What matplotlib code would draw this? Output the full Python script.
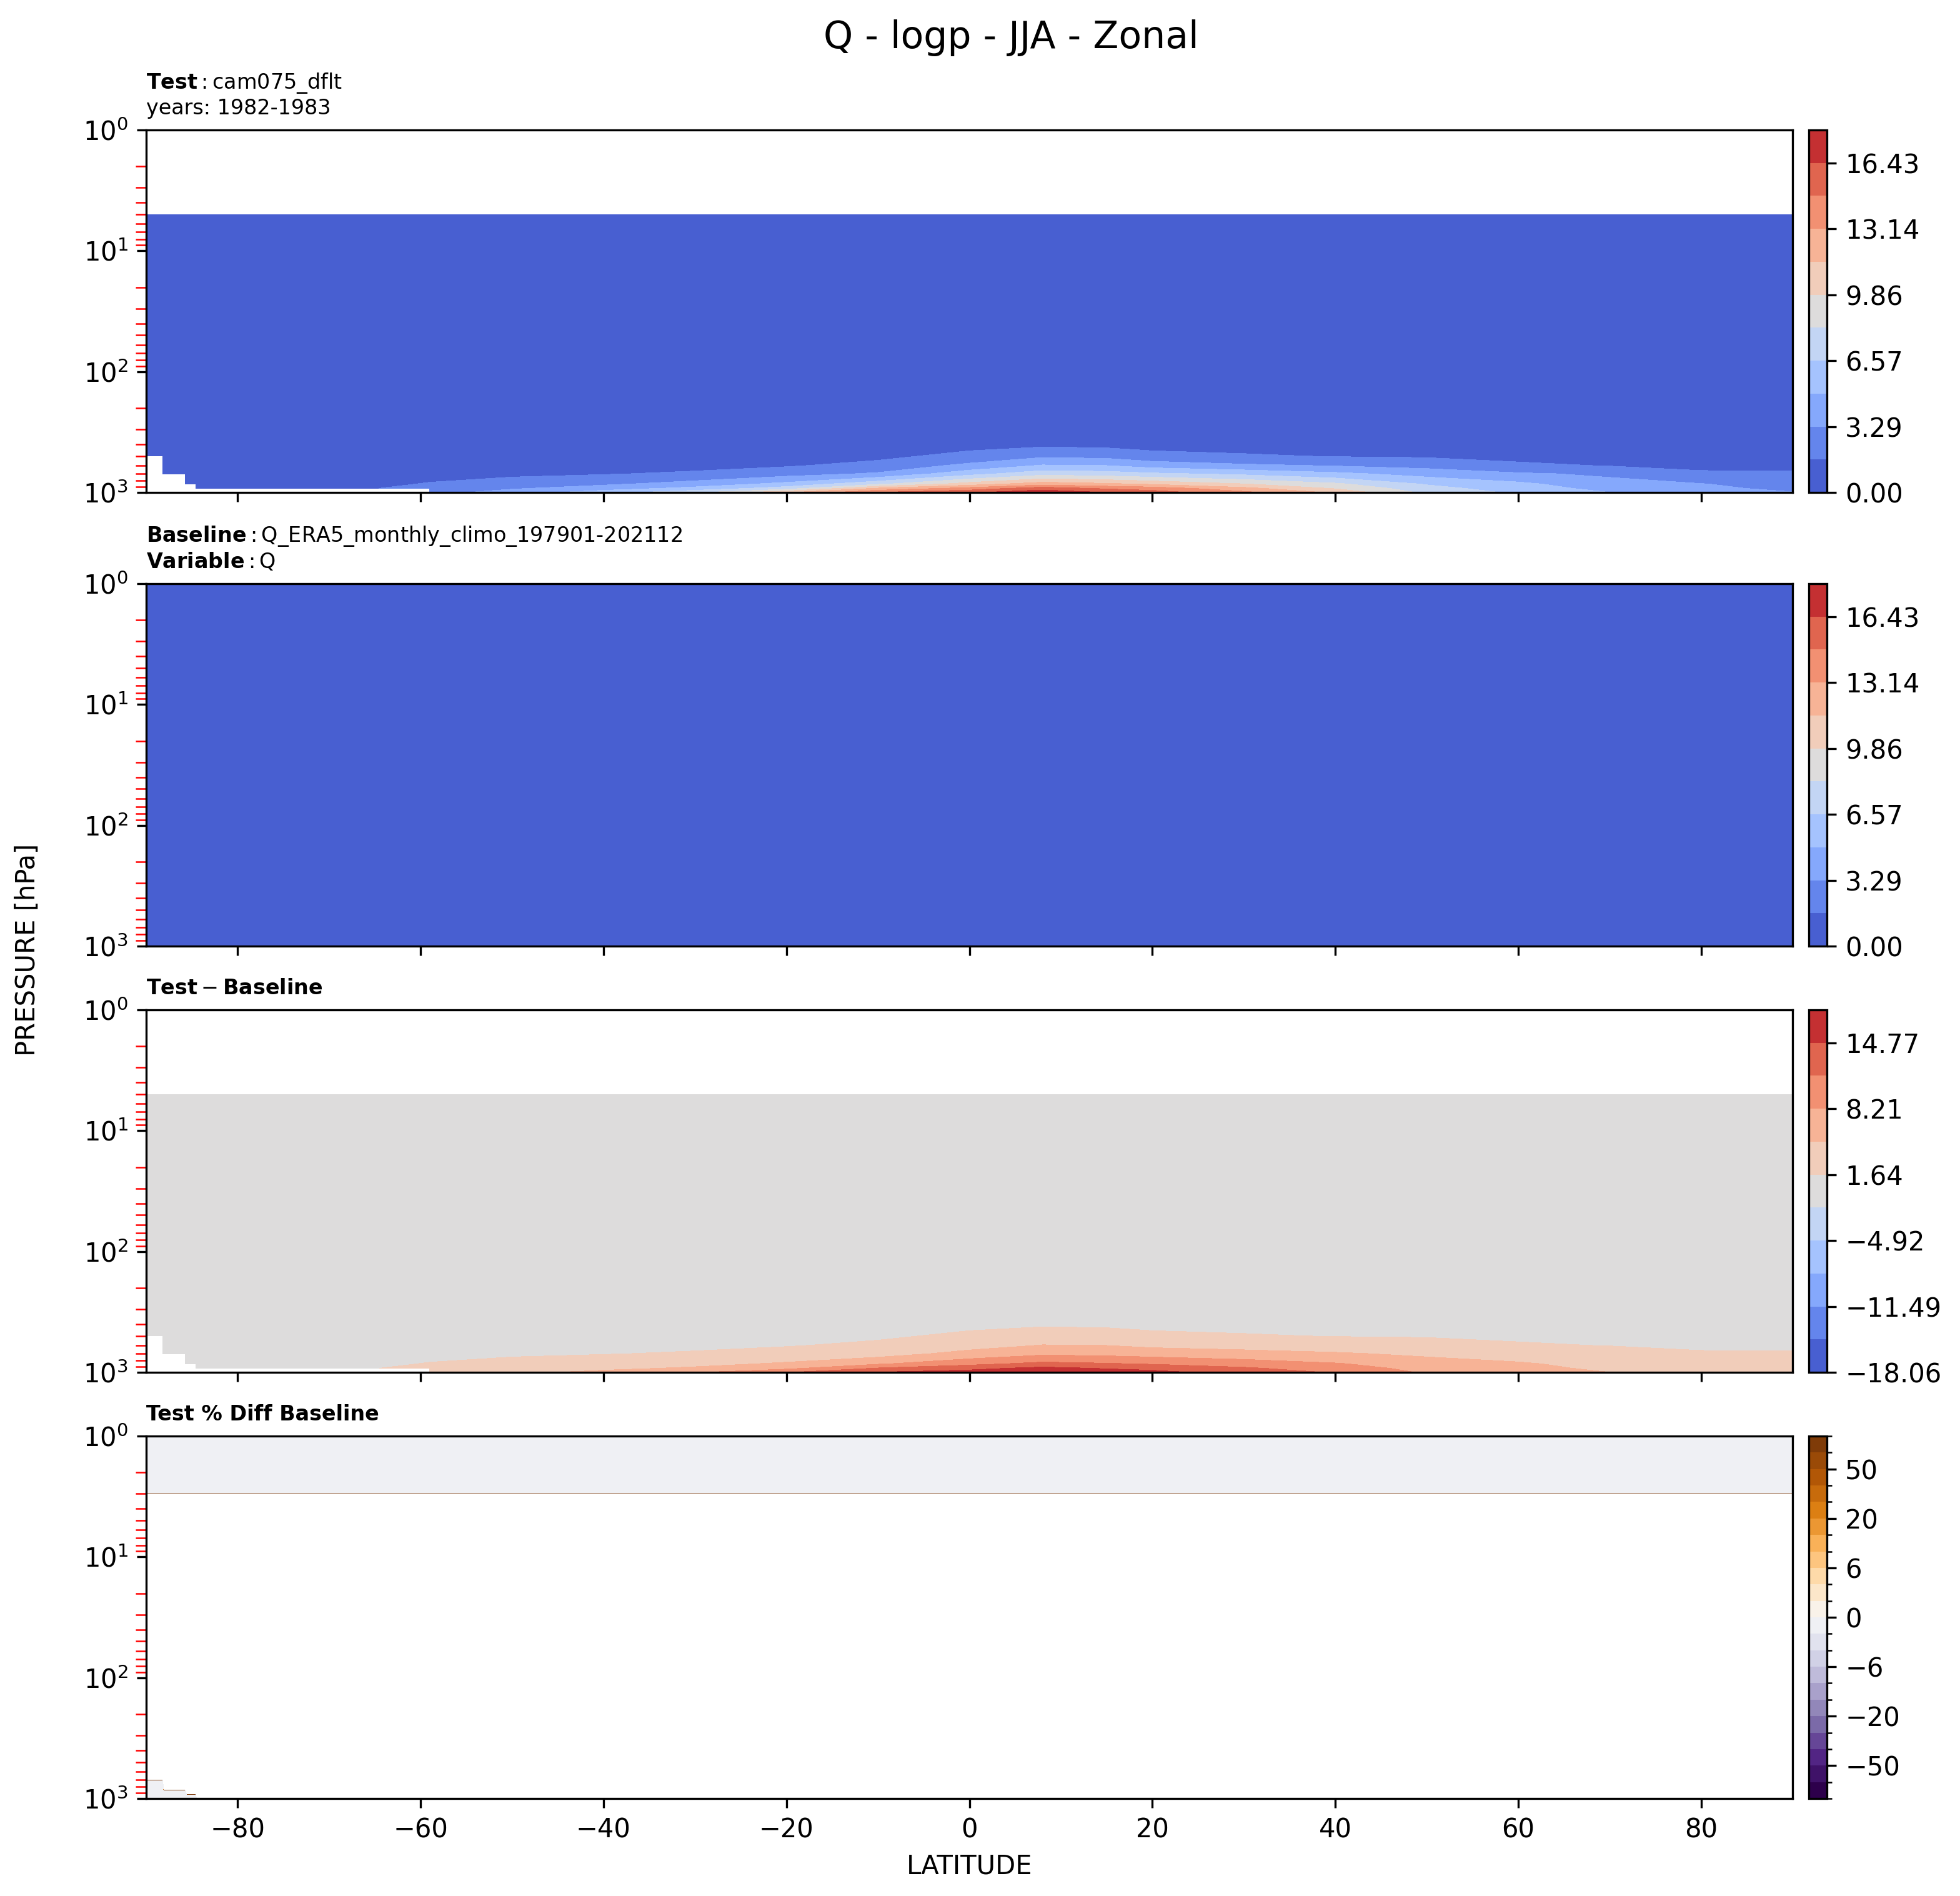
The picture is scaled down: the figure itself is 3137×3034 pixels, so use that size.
import numpy as np
import matplotlib
matplotlib.use("Agg")
import matplotlib.pyplot as plt
import matplotlib.colors as mcolors
import matplotlib.ticker as mticker

nan = np.nan

# grid: latitude nodes and pressure levels (hPa)
lat = [-90, -88.2, -88.1, -85.7, -85.6, -84.6, -80, -70, -65, -59, -50, -40, -30,
       -20, -10, 0, 8, 15, 20, 30, 40, 50, 60, 70, 80, 90]
lev = [1000, 925, 850, 700, 600, 500, 400, 300, 200, 5, 3, 1]

# test Q (g/kg), one row per level, nan = below ground / above model top
q_1000 = [nan, nan, nan, nan, nan, nan, nan, nan, nan, 2.63, 4.09, 5.82, 7.94,
          11.3, 14.9, 16.2, 17.6, 16.4, 15.6, 13.6, 11.2, 7.8, 6.27, 4.95, 4.0, 3.35]
q_925 = [nan, nan, nan, nan, nan, 1.05, 1.0, 1.4, 1.6, 2.2, 3.09, 4.15, 5.43,
         7.39, 11.75, 13.8, 15.7, 14.5, 14.05, 12.0, 9.7, 7.2, 5.7, 4.4, 3.6, 2.95]
q_850 = [nan, nan, nan, 0.85, 0.85, 0.95, 0.9, 1.1, 1.3, 1.75, 2.2, 2.98, 3.98,
         5.4, 7.85, 10.6, 12.4, 11.8, 11.2, 9.9, 8.5, 6.4, 5.3, 3.85, 3.35, 2.55]
q_700 = [nan, 0.55, 0.55, 0.6, 0.6, 0.62, 0.6, 0.7, 0.85, 1.15, 1.4, 1.54, 1.89,
         2.66, 3.5, 5.98, 7.58, 7.3, 6.84, 6.2, 5.3, 4.3, 3.5, 3.0, 1.85, 1.85]
q_600 = [nan, 0.45, 0.45, 0.45, 0.45, 0.45, 0.45, 0.5, 0.6, 0.8, 0.95, 1.05, 1.2,
         1.5, 2.19, 3.73, 5.1, 4.95, 4.27, 3.6, 3.2, 2.75, 1.95, 1.58, 1.35, 1.25]
q_500 = [0.35, 0.38, 0.38, 0.38, 0.38, 0.36, 0.3, 0.33, 0.4, 0.5, 0.6, 0.68, 0.75,
         0.9, 1.25, 2.14, 3.0, 2.8, 2.19, 1.85, 1.55, 1.45, 1.2, 0.95, 0.8, 0.7]
q_400 = [0.17, 0.18, 0.18, 0.18, 0.18, 0.17, 0.15, 0.17, 0.2, 0.26, 0.32, 0.36, 0.4,
         0.45, 0.62, 1.1, 1.3, 1.2, 1.05, 0.95, 0.8, 0.7, 0.6, 0.45, 0.38, 0.35]
q_300 = [0.06, 0.07, 0.07, 0.07, 0.07, 0.07, 0.06, 0.07, 0.08, 0.1, 0.12, 0.13, 0.15,
         0.17, 0.23, 0.45, 0.5, 0.48, 0.42, 0.38, 0.32, 0.28, 0.24, 0.17, 0.14, 0.12]
q_200 = [0.02, 0.02, 0.02, 0.02, 0.02, 0.02, 0.02, 0.02, 0.02, 0.03, 0.03, 0.03, 0.03,
         0.04, 0.05, 0.08, 0.1, 0.09, 0.08, 0.07, 0.06, 0.05, 0.05, 0.04, 0.03, 0.03]
q_5 = [0.003, 0.003, 0.003, 0.003, 0.003, 0.003, 0.003, 0.003, 0.003, 0.003, 0.003,
       0.003, 0.003, 0.003, 0.003, 0.003, 0.003, 0.003, 0.003, 0.003, 0.003, 0.003,
       0.003, 0.003, 0.003, 0.003]
q_3 = [nan] * len(lat)
q_1 = [nan] * len(lat)

# baseline Q (kg/kg), ERA5 profile per level
base_profile = [0.0105, 0.0085, 0.0065, 0.0035, 0.0022, 0.0013, 0.0007, 0.00028,
                0.00006, 0.000004, 0.000004, 0.000004]

# percent difference, own small grid
pct_lat = [-90, -88.2, -88.1, -85.7, -85.6, -84.6, -84.5, -80, 90]
pct_lev = [1000, 925, 850, 700, 600, 5, 3, 1]
pct_1000 = [-1.0, -1.0, -1.0, -1.0, -1.0, -1.0, -1.0, 1e5, 1e5]
pct_925 = [-1.0, -1.0, -1.0, -1.0, -1.0, -1.0, 1e5, 1e5, 1e5]
pct_850 = [-1.0, -1.0, -1.0, -1.0, 1e5, 1e5, 1e5, 1e5, 1e5]
pct_700 = [-1.0, -1.0, 1e5, 1e5, 1e5, 1e5, 1e5, 1e5, 1e5]
pct_600 = [1e5, 1e5, 1e5, 1e5, 1e5, 1e5, 1e5, 1e5, 1e5]
pct_5 = [1e5, 1e5, 1e5, 1e5, 1e5, 1e5, 1e5, 1e5, 1e5]
pct_3 = [-1.0, -1.0, -1.0, -1.0, -1.0, -1.0, -1.0, -1.0, -1.0]
pct_1 = [-1.0, -1.0, -1.0, -1.0, -1.0, -1.0, -1.0, -1.0, -1.0]

test_max = 18.07
diff_max = 18.056
pct_levels = [-100, -75, -50, -40, -30, -20, -10, -8, -6, -4, -2, 0,
              2, 4, 6, 8, 10, 20, 30, 40, 50, 75, 100]
pct_ticks = [-50, -20, -6, 0, 6, 20, 50]
lat_ticks = [-80, -60, -40, -20, 0, 20, 40, 60, 80]

test_q = np.array([q_1000, q_925, q_850, q_700, q_600, q_500, q_400, q_300, q_200,
                   q_5, q_3, q_1])
base_q = np.tile(np.array(base_profile)[:, None], (1, len(lat)))
diff_q = test_q - base_q
pct_q = np.array([pct_1000, pct_925, pct_850, pct_700, pct_600, pct_5, pct_3, pct_1])

W, H = 3137, 3034
fig = plt.figure(figsize=(W / 300, H / 300), dpi=300)

tops = [208, 934, 1616, 2298]
axes, caxes = [], []
for t in tops:
    axes.append(fig.add_axes([234 / W, 1 - (t + 580) / H, (2869 - 234) / W, 580 / H]))
    caxes.append(fig.add_axes([2895 / W, 1 - (t + 580) / H, 29 / W, 580 / H]))

fmt2 = mticker.FuncFormatter(lambda v, p: f"{v:.2f}".replace("-", "\u2212"))

test_levels = np.linspace(0, test_max, 12)
diff_levels = np.linspace(-diff_max, diff_max, 12)

cf1 = axes[0].contourf(lat, lev, np.ma.masked_invalid(test_q), levels=test_levels,
                       cmap="coolwarm", corner_mask=False)
cf2 = axes[1].contourf(lat, lev, base_q, levels=test_levels, cmap="coolwarm",
                       corner_mask=False)
cf3 = axes[2].contourf(lat, lev, np.ma.masked_invalid(diff_q), levels=diff_levels,
                       cmap="coolwarm", corner_mask=False)
pct_norm = mcolors.BoundaryNorm(pct_levels, 256)
cf4 = axes[3].contourf(pct_lat, pct_lev, pct_q, levels=pct_levels,
                       cmap="PuOr_r", norm=pct_norm)

for cf, cax, lv in [(cf1, caxes[0], test_levels), (cf2, caxes[1], test_levels),
                    (cf3, caxes[2], diff_levels)]:
    cb = fig.colorbar(cf, cax=cax)
    cb.set_ticks(lv[::2])
    cb.ax.yaxis.set_major_formatter(fmt2)
    cb.ax.tick_params(labelsize=10)

cb4 = fig.colorbar(cf4, cax=caxes[3])
cb4.set_ticks(pct_ticks)
cb4.ax.yaxis.set_major_formatter(
    mticker.FuncFormatter(lambda v, p: f"{v:g}".replace("-", "\u2212")))
cb4.ax.set_yticks(pct_levels, minor=True)

for i, ax in enumerate(axes):
    ax.set_yscale("log")
    ax.set_ylim(1000, 1)
    ax.set_xlim(-90, 90)
    ax.set_xticks(lat_ticks)
    ax.tick_params(axis="y", which="minor", color="red", length=4)
    if i < 3:
        ax.tick_params(labelbottom=False)

axes[0].set_title("$\\mathbf{Test}:$cam075_dflt\nyears: 1982-1983", loc="left", fontsize=8)
axes[1].set_title("$\\mathbf{Baseline}:$Q_ERA5_monthly_climo_197901-202112\n"
                  "$\\mathbf{Variable}:$Q", loc="left", fontsize=8)
axes[2].set_title("$\\mathbf{Test} - \\mathbf{Baseline}$", loc="left", fontsize=8)
axes[3].set_title("Test % Diff Baseline", loc="left", fontsize=8, fontweight="bold")
axes[3].set_xlabel("LATITUDE", fontsize=10)

fig.text(0.014, 0.499, "PRESSURE [hPa]", rotation=90, ha="center", va="center", fontsize=10)
fig.text(0.516, 0.9746, "Q - logp - JJA - Zonal", ha="center", va="baseline", fontsize=14.4)

fig.savefig("out.png", dpi=300)
